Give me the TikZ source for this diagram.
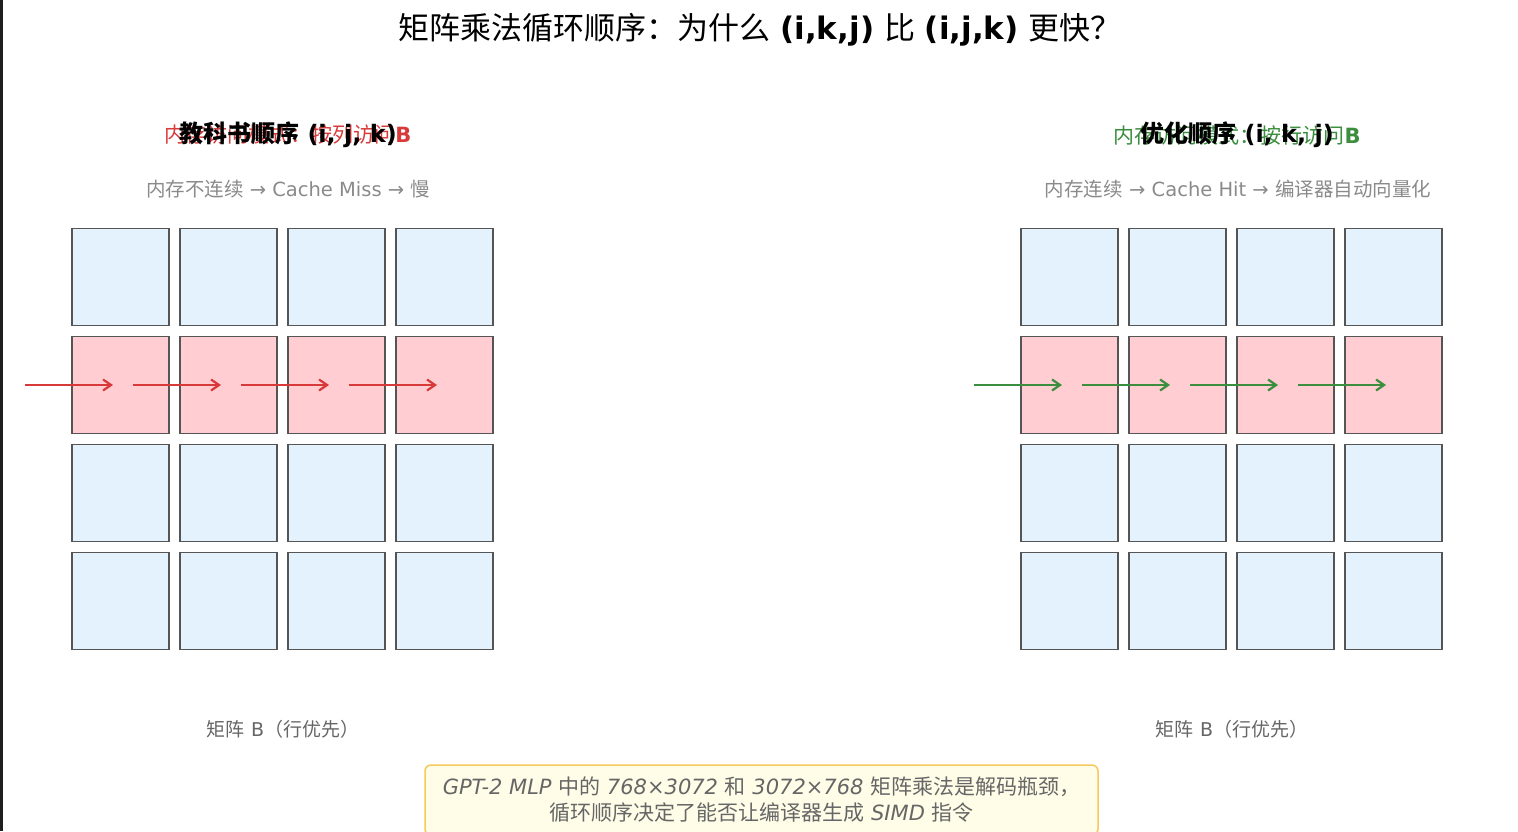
\documentclass[tikz,border=0pt]{standalone}
\usepackage{fontspec}
\setmainfont{DejaVu Sans}
\newfontfamily\cjkfont{Noto Sans CJK SC}
\newcommand{\zh}[1]{{\cjkfont #1}}
\newcommand{\zhm}[1]{{\cjkfont\mdseries #1}}
\usetikzlibrary{arrows.meta,positioning}
\definecolor{cellblue}{HTML}{E3F2FD}
\definecolor{cellpink}{HTML}{FFCDD2}
\definecolor{cellline}{HTML}{555555}
\definecolor{arrred}{HTML}{D83A3A}
\definecolor{arrgreen}{HTML}{3A8E3E}
\definecolor{notegray}{HTML}{8A8A8A}
\definecolor{labgray}{HTML}{666666}
\definecolor{boxfill}{HTML}{FFFDE8}
\definecolor{boxline}{HTML}{F7C85A}
\tikzstyle{cellb} = [rectangle, draw=cellline, line width=1.2pt, fill=cellblue, minimum size=97pt, inner sep=0pt]
\tikzstyle{cellr} = [cellb, fill=cellpink]
\tikzstyle{linered} = [draw=arrred, line width=2.2pt, -{Straight Barb[length=8pt,width=11pt]}]
\tikzstyle{linegreen} = [linered, draw=arrgreen]
\tikzstyle{subtitle} = [font=\fontsize{24}{28}\selectfont\bfseries, inner sep=0pt]
\tikzstyle{subacc} = [font=\fontsize{21}{25}\selectfont\bfseries, inner sep=0pt]
\tikzstyle{subnote} = [font=\fontsize{19.5}{23}\selectfont, text=notegray, inner sep=0pt]
\tikzstyle{matlabel} = [font=\fontsize{19}{23}\selectfont, text=labgray, inner sep=0pt]
\tikzstyle{notebox} = [rectangle, draw=boxline, line width=1.5pt, fill=boxfill, rounded corners=6pt, minimum width=673pt, minimum height=70pt, align=center, text=labgray, font=\fontsize{21}{26}\selectfont]

\begin{document}
\begin{tikzpicture}[x=1pt,y=-1pt]
    \useasboundingbox (0,0) rectangle (1518,831);
    \fill[black!88] (0,0) rectangle (3,831);
    \node[font=\fontsize{31}{36}\selectfont, inner sep=0pt] (title) at (760,30)
        {\zh{矩阵乘法循环顺序：为什么} \textbf{(i,k,j)} \zh{比} \textbf{(i,j,k)} \zh{更快？}};

    % left: (i,j,k)
    \node[subacc, text=arrred] (lacc) at (288,135) {\zhm{内存访问模式：按列访问}B};
    \node[subtitle] (lhead) at (288,135) {\zh{教科书顺序} (i, j, k)};
    \node[subnote] (lnote) at (288,189) {\zh{内存不连续} → Cache Miss → \zh{慢}};
    \foreach \r/\s in {1/cellb,2/cellr,3/cellb,4/cellb}
        \foreach \c in {1,...,4}
            \node[\s] (l\r\c) at ({120.5+108*(\c-1)},{277+108*(\r-1)}) {};
    \foreach \c in {1,...,4}
        \draw[linered] ([xshift=-95.5pt]l2\c.center) -- ([xshift=-7.5pt]l2\c.center);
    \node[matlabel] (lmat) at (283,729) {\zh{矩阵} B\zh{（行优先）}};

    % right: (i,k,j)
    \node[subacc, text=arrgreen] (racc) at (1237,135) {\zhm{内存访问模式：按行访问}B};
    \node[subtitle] (rhead) at (1237,135) {\zh{优化顺序} (i, k, j)};
    \node[subnote] (rnote) at (1238,189) {\zh{内存连续} → Cache Hit → \zh{编译器自动向量化}};
    \foreach \r/\s in {1/cellb,2/cellr,3/cellb,4/cellb}
        \foreach \c in {1,...,4}
            \node[\s] (r\r\c) at ({1069.5+108*(\c-1)},{277+108*(\r-1)}) {};
    \foreach \c in {1,...,4}
        \draw[linegreen] ([xshift=-95.5pt]r2\c.center) -- ([xshift=-7.5pt]r2\c.center);
    \node[matlabel] (rmat) at (1232,729) {\zh{矩阵} B\zh{（行优先）}};

    % note at the bottom
    \node[notebox] (note) at (761.5,800)
        {\textit{GPT-2 MLP} \zh{中的} \textit{768×3072} \zh{和} \textit{3072×768} \zh{矩阵乘法是解码瓶颈，}\\
         \zh{循环顺序决定了能否让编译器生成} \textit{SIMD} \zh{指令}};
\end{tikzpicture}
\end{document}
